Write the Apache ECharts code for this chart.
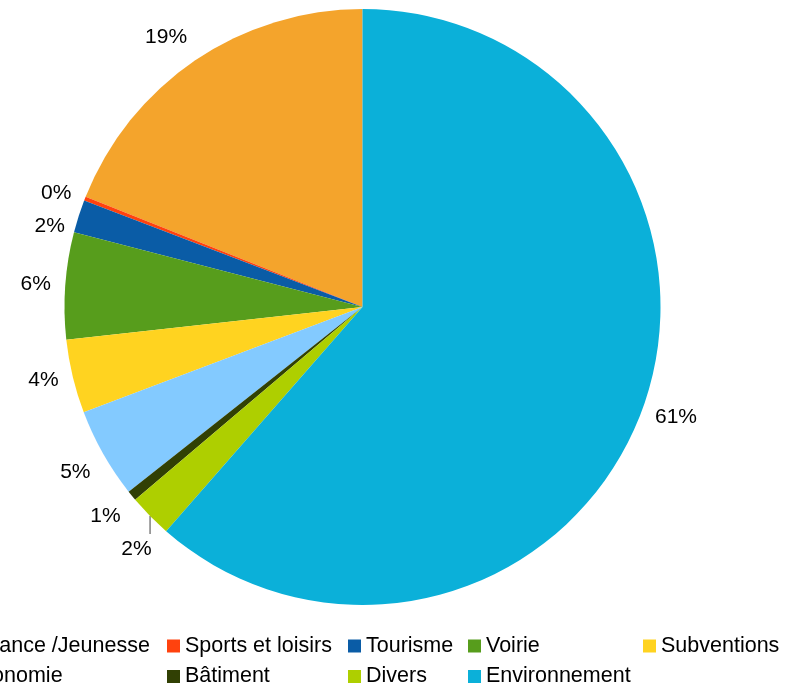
<!DOCTYPE html>
<html>
<head>
<meta charset="utf-8">
<script src="https://cdn.jsdelivr.net/npm/echarts@6/dist/echarts.min.js"></script>
<style>
  html, body { margin: 0; padding: 0; background: #fff; }
  #chart { width: 797px; height: 688px; }
</style>
</head>
<body>
<div id="chart"></div>
<script>
// Budget split by domain (share of total, %)
const categories = ['Enfance /Jeunesse', 'Sports et loisirs', 'Tourisme', 'Voirie', 'Subventions',
                    'Économie', 'Bâtiment', 'Divers', 'Environnement'];
const shares = [18.97, 0.22, 1.78, 5.78, 4.0, 4.89, 0.55, 2.36, 61.45];
const colors = ['#f4a42c', '#ff420e', '#0a5ca6', '#579d1c', '#ffd320',
                '#83caff', '#314004', '#aecf00', '#0bb0d9'];

// Legend grid: indices of categories per column, and column x offsets
const legendColumns = [[0, 5], [1, 6], [2, 7], [3, 8], [4]];
const legendLefts = [-51, 167, 348, 468, 643];

const PIE_CENTER = [362.5, 307];
const PIE_RADIUS = 298;
const LABEL_ANCHOR = 312.5; // radius of the point each label box is attached to
const LABEL_BOX_H = 22;     // label box height used for vertical attachment
const LABEL_GAP = 33;       // minimum vertical spacing between label centres on one side
const FONT = '"Liberation Sans", Arial, sans-serif';

const chart = echarts.init(document.getElementById('chart'));

// Attach each label box to the anchor point on its slice's mid-angle ray,
// choosing the box side by octant, then push colliding labels downward.
function labelPositions() {
  const data = chart.getModel().getSeriesByIndex(0).getData();
  const pos = [];
  for (let i = 0; i < data.count(); i++) {
    const l = data.getItemLayout(i);
    const mid = (l.startAngle + l.endAngle) / 2;
    const dx = Math.cos(mid), dy = Math.sin(mid);
    let deg = (-mid * 180 / Math.PI) % 360;
    if (deg < 0) deg += 360;
    const ax = l.cx + dx * LABEL_ANCHOR, ay = l.cy + dy * LABEL_ANCHOR;
    let align = 'center', vshift = 0;
    if (deg <= 22.5 || deg >= 337.5) { align = 'left'; }
    else if (deg < 67.5) { align = 'left'; vshift = -1; }
    else if (deg < 112.5) { vshift = -1; }
    else if (deg <= 157.5) { align = 'right'; vshift = -1; }
    else if (deg <= 202.5) { align = 'right'; }
    else if (deg < 247.5) { align = 'right'; vshift = 1; }
    else if (deg < 292.5) { vshift = 1; }
    else { align = 'left'; vshift = 1; }
    const y = ay + vshift * LABEL_BOX_H / 2;
    pos.push({
      x: ax, y: y, y0: y, align: align,
      ex: l.cx + dx * l.r, ey: l.cy + dy * l.r, left: dx < 0
    });
  }
  [true, false].forEach(side => {
    const idx = pos.map((p, i) => i).filter(i => pos[i].left === side)
                   .sort((a, b) => pos[a].y - pos[b].y);
    for (let k = 1; k < idx.length; k++) {
      const prev = pos[idx[k - 1]], cur = pos[idx[k]];
      if (cur.y < prev.y + LABEL_GAP) cur.y = prev.y + LABEL_GAP;
    }
  });
  // A label pushed away from its slice hangs below the slice edge on a short connector
  pos.forEach(p => {
    const d0 = Math.hypot(p.x - p.ex, p.y0 - p.ey);
    const d1 = Math.hypot(p.x - p.ex, p.y - p.ey);
    p.guide = d1 > d0 + 3;
    if (p.guide) {
      p.x = p.ex + (p.left ? 1.5 : -1.5);
    }
  });
  return pos;
}

const option = {
  animation: false,
  backgroundColor: '#fff',
  color: colors,
  legend: legendColumns.map((col, c) => ({
    orient: 'vertical',
    left: legendLefts[c],
    top: 635,
    height: 70,
    padding: 0,
    itemGap: 8.5,
    itemWidth: 13,
    itemHeight: 13,
    icon: 'rect',
    selectedMode: false,
    data: col.map(i => categories[i]),
    textStyle: { fontSize: 21.5, fontFamily: FONT, color: '#000', lineHeight: 21.5 }
  })),
  series: [{
    type: 'pie',
    center: PIE_CENTER,
    radius: PIE_RADIUS,
    startAngle: 90,
    clockwise: false,
    avoidLabelOverlap: false,
    itemStyle: { borderWidth: 0 },
    emphasis: { disabled: true },
    data: categories.map((name, i) => ({ name: name, value: shares[i] })),
    label: {
      show: true,
      position: 'outside',
      fontSize: 21,
      fontFamily: FONT,
      color: '#000',
      formatter: p => Math.round(p.percent) + '%'
    },
    labelLine: {
      show: true,
      lineStyle: { color: '#808080', width: 1.5 }
    },
    labelLayout: function (params) {
      const p = labelPositions()[params.dataIndex];
      const pts = p.guide
        ? [[p.ex, p.ey], [p.ex, p.y - LABEL_BOX_H / 2 - 4]]
        : [[p.ex, p.ey], [p.ex, p.ey]];
      return { x: p.x, y: p.y, align: p.align, verticalAlign: 'middle', labelLinePoints: pts };
    }
  }]
};

chart.setOption(option);
</script>
</body>
</html>
